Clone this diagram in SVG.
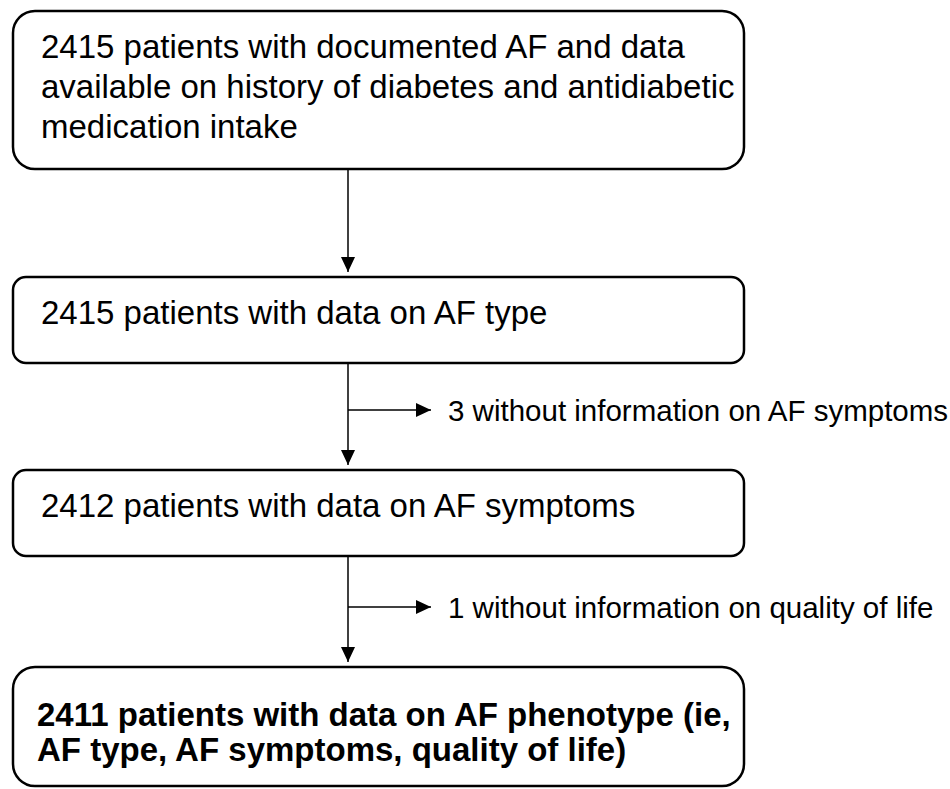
<svg xmlns="http://www.w3.org/2000/svg" width="950" height="789" viewBox="0 0 950 789">
  <style>
    .box { fill: #ffffff; stroke: #000000; stroke-width: 2.5; }
    .t { font-family: "Liberation Sans", Arial, sans-serif; font-size: 33px; fill: #000000; }
    .side { font-family: "Liberation Sans", Arial, sans-serif; font-size: 29.5px; fill: #000000; }
    .b { font-weight: bold; }
    .edge { stroke: #000000; stroke-width: 1.5; fill: none; marker-end: url(#arrow); }
  </style>
  <defs>
    <marker id="arrow" viewBox="0 0 15 14" refX="15" refY="7" markerWidth="15" markerHeight="14" markerUnits="userSpaceOnUse" orient="auto">
      <path d="M0,0 L15,7 L0,14 z" fill="#000000"/>
    </marker>
  </defs>
  <rect width="950" height="789" fill="#ffffff"/>

  <g id="connectors">
    <line class="edge" x1="348" y1="169" x2="348" y2="272"/>
    <line class="edge" x1="348" y1="363" x2="348" y2="465"/>
    <line class="edge" x1="348" y1="410" x2="431" y2="410"/>
    <line class="edge" x1="348" y1="556" x2="348" y2="662"/>
    <line class="edge" x1="348" y1="607" x2="431" y2="607"/>
  </g>

  <g id="n1">
    <rect class="box" x="13" y="11" width="731" height="158" rx="22" ry="22"/>
    <text class="t" x="41" y="58">2415 patients with documented AF and data</text>
    <text class="t" x="41" y="98">available on history of diabetes and antidiabetic</text>
    <text class="t" x="41" y="138">medication intake</text>
  </g>

  <g id="n2">
    <rect class="box" x="13" y="277" width="731" height="86" rx="13" ry="13"/>
    <text class="t" x="41" y="324">2415 patients with data on AF type</text>
  </g>

  <g id="n3">
    <rect class="box" x="13" y="470" width="731" height="86" rx="13" ry="13"/>
    <text class="t" x="41" y="517">2412 patients with data on AF symptoms</text>
  </g>

  <g id="x1">
    <text class="side" x="448" y="421">3 without information on AF symptoms</text>
  </g>

  <g id="x2">
    <text class="side" x="448" y="618">1 without information on quality of life</text>
  </g>

  <g id="n4">
    <rect class="box" x="13" y="667" width="731" height="119" rx="22" ry="22"/>
    <text class="t b" x="37" y="726">2411 patients with data on AF phenotype (ie,</text>
    <text class="t b" x="37" y="761">AF type, AF symptoms, quality of life)</text>
  </g>
</svg>
